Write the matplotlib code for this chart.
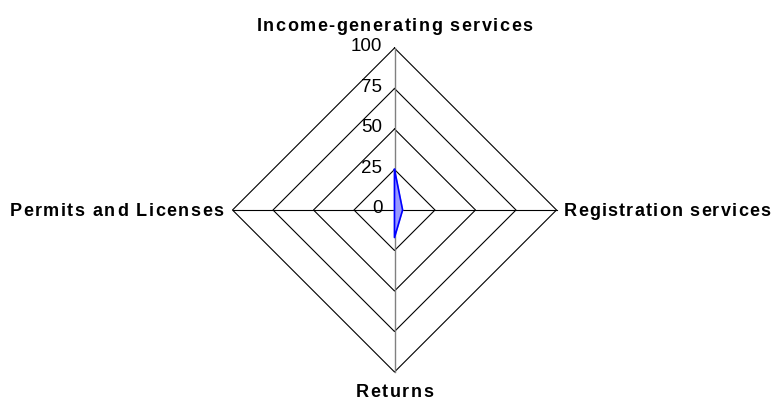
import matplotlib.pyplot as plt
import matplotlib.transforms as mtransforms
from matplotlib.font_manager import FontProperties
from matplotlib.textpath import TextToPath
import numpy as np

# radar chart, four categories clockwise from the top
categories = ['Income-generating services', 'Registration services', 'Returns', 'Permits and Licenses']
values = [25, 5, 17, 0]
levels = [25, 50, 75, 100]
tick_labels = ['0', '25', '50', '75', '100']

plt.rcParams['font.family'] = ['Liberation Sans', 'DejaVu Sans']

DPI = 100
fig = plt.figure(figsize=(7.76, 4.0), dpi=DPI)
ax = fig.add_axes([0, 0, 1, 1])
scale = 1.62  # px per unit
cx, cy = 394.5, 210
ax.set_xlim(-cx / scale, (776 - cx) / scale)
ax.set_ylim(-(400 - cy) / scale, cy / scale)
ax.axis('off')

angles = np.pi / 2 - np.arange(len(categories)) * 2 * np.pi / len(categories)
dx, dy = np.cos(angles), np.sin(angles)

# grid diamonds
for r in levels:
    ax.plot(np.append(dx, dx[0]) * r, np.append(dy, dy[0]) * r, color='black', lw=0.8, zorder=1)

# spokes
ax.plot([-100, 100], [0, 0], color='black', lw=0.8, zorder=1)
ax.plot([0, 0], [-100, 100], color='#808080', lw=1.0, zorder=1)

# data polygon
px = np.array(values) * dx
py = np.array(values) * dy
ax.fill(px, py, color='#9999ff', zorder=2)
ax.plot(np.append(px, px[0]), np.append(py, py[0]), color='#0000ff', lw=1.2, zorder=3)

# value scale along the top axis
for i, t in enumerate(tick_labels):
    ax.text(-7.5, i * 25 + 0.8, t, ha='right', va='center', fontsize=13.5)


def tracked_text(x, y, s, ha, va, size=13, tracking=1.5):
    """Bold text with extra letter spacing, anchored at data point (x, y)."""
    prop = FontProperties(family='Liberation Sans', weight='bold', size=size)
    t2p = TextToPath()
    widths = []
    for i in range(len(s)):
        w, _, _ = t2p.get_text_width_height_descent(s[:i], prop, ismath=False)
        widths.append(w * DPI / 72 + tracking * i)
    total = t2p.get_text_width_height_descent(s, prop, ismath=False)[0] * DPI / 72 + tracking * (len(s) - 1)
    start = {'left': 0, 'center': -total / 2, 'right': -total}[ha]
    for ch, off in zip(s, widths):
        tr = mtransforms.offset_copy(ax.transData, fig=fig, x=start + off, y=0, units='dots')
        ax.text(x, y, ch, transform=tr, ha='left', va=va, fontproperties=prop)


# category labels
tracked_text(0, 110.5, categories[0], 'center', 'baseline')
tracked_text(104.5, -3.7, categories[1], 'left', 'baseline', tracking=1.2)
tracked_text(0, -115.5, categories[2], 'center', 'baseline')
tracked_text(-105.5, -3.7, categories[3], 'right', 'baseline')

fig.savefig('out.png', dpi=DPI)
